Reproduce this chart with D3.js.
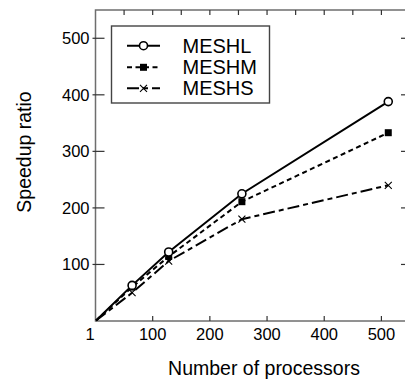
<!DOCTYPE html>
<html>
<head>
<meta charset="utf-8">
<script src="https://cdn.jsdelivr.net/npm/d3@7"></script>
<style>
  body { margin: 0; background: #fff; }
  svg { display: block; font-family: "Liberation Sans", Arial, sans-serif; }
</style>
</head>
<body>
<svg id="chart" width="405" height="381"></svg>
<script>
// number of processors and speedup for each mesh
var procs = [1, 64, 128, 256, 512];
var meshL = [1, 63, 122, 225, 388];
var meshM = [1, 60, 114, 211, 333];
var meshS = [1, 50, 106, 180, 240];
var seriesNames = ["MESHL", "MESHM", "MESHS"];
var xTicks = [1, 100, 200, 300, 400, 500];
var yTicks = [100, 200, 300, 400, 500];

var svg = d3.select("#chart");

// frame runs a bit past the right edge of the window, like the original
// (note: "top" is taken by window.top, so use other names)
var plotL = 95.5, plotR = 410, plotT = 10, plotB = 321;

var x = d3.scaleLinear().domain([0, 550]).range([plotL, plotR]);
var y = d3.scaleLinear().domain([0, 550]).range([plotB, plotT]);

var axisColor = "#6e6e6e";

// frame
svg.append("rect")
  .attr("x", plotL).attr("y", plotT)
  .attr("width", plotR - plotL).attr("height", plotB - plotT)
  .attr("fill", "none").attr("stroke", axisColor).attr("stroke-width", 1.5);

// left ticks + labels
svg.selectAll(".ytick").data(yTicks).enter().append("line")
  .attr("x1", plotL - 3).attr("x2", plotL + 9)
  .attr("y1", function(d){ return y(d); }).attr("y2", function(d){ return y(d); })
  .attr("stroke", "#333").attr("stroke-width", 1.2);
svg.selectAll(".ylab").data(yTicks).enter().append("text")
  .attr("x", plotL - 6).attr("y", function(d){ return y(d); })
  .attr("text-anchor", "end").attr("dominant-baseline", "central")
  .style("font-size", "16.5px").text(function(d){ return d; });

// right ticks
svg.selectAll(".rtick").data(yTicks).enter().append("line")
  .attr("x1", plotR - 9).attr("x2", plotR)
  .attr("y1", function(d){ return y(d); }).attr("y2", function(d){ return y(d); })
  .attr("stroke", "#333").attr("stroke-width", 1.2);

// bottom ticks + labels
svg.selectAll(".xtick").data(xTicks.slice(1)).enter().append("line")
  .attr("x1", function(d){ return x(d); }).attr("x2", function(d){ return x(d); })
  .attr("y1", plotB - 5).attr("y2", plotB)
  .attr("stroke", "#333").attr("stroke-width", 1.2);
svg.selectAll(".xlab").data(xTicks).enter().append("text")
  .attr("x", function(d){ return x(d) - (d === 1 ? 6 : 0); })
  .attr("y", plotB + 19)
  .attr("text-anchor", "middle")
  .style("font-size", "16.5px").text(function(d){ return d; });

// top ticks every 50
svg.selectAll(".ttick").data(d3.range(50, 550, 50)).enter().append("line")
  .attr("x1", function(d){ return x(d); }).attr("x2", function(d){ return x(d); })
  .attr("y1", plotT).attr("y2", plotT + 5)
  .attr("stroke", "#333").attr("stroke-width", 1.2);

// axis titles
svg.append("text").attr("x", 264).attr("y", 375)
  .attr("text-anchor", "middle").style("font-size", "19.5px")
  .text("Number of processors");
svg.append("text")
  .attr("transform", "translate(31,152) rotate(-90)")
  .attr("text-anchor", "middle").style("font-size", "19.5px")
  .text("Speedup ratio");

var styles = [
  { values: meshL, dash: null, marker: "circle" },
  { values: meshM, dash: "5,3.5", marker: "square" },
  { values: meshS, dash: "12,4,5,4", marker: "cross" }
];

var line = d3.line()
  .x(function(d){ return x(d[0]); })
  .y(function(d){ return y(d[1]); });

function drawMarker(g, type, cx, cy) {
  if (type === "circle") {
    g.append("circle").attr("cx", cx).attr("cy", cy).attr("r", 4)
      .attr("fill", "#fff").attr("stroke", "#000").attr("stroke-width", 1.6);
  } else if (type === "square") {
    g.append("rect").attr("x", cx - 3.5).attr("y", cy - 3.5)
      .attr("width", 7).attr("height", 7).attr("fill", "#000");
  } else {
    g.append("path")
      .attr("d", "M" + (cx - 3.5) + "," + (cy - 3.5) + "L" + (cx + 3.5) + "," + (cy + 3.5) +
                 "M" + (cx - 3.5) + "," + (cy + 3.5) + "L" + (cx + 3.5) + "," + (cy - 3.5))
      .attr("stroke", "#000").attr("stroke-width", 1.1).attr("fill", "none");
  }
}

// draw in reverse so the solid line sits on top
styles.slice().reverse().forEach(function(s) {
  var pts = procs.map(function(p, i){ return [p, s.values[i]]; });
  svg.append("path").datum(pts)
    .attr("d", line)
    .attr("fill", "none").attr("stroke", "#000").attr("stroke-width", 2)
    .attr("stroke-dasharray", s.dash);
  var g = svg.append("g");
  pts.slice(1).forEach(function(p){ drawMarker(g, s.marker, x(p[0]), y(p[1])); });
});

// legend
var lg = svg.append("g");
lg.append("rect").attr("x", 111.5).attr("y", 26).attr("width", 158).attr("height", 77)
  .attr("fill", "#fff").attr("stroke", "#444").attr("stroke-width", 1.4);
var rows = [45.7, 67.3, 88.3];
styles.forEach(function(s, i) {
  var ry = rows[i];
  lg.append("line").attr("x1", 127).attr("x2", 160).attr("y1", ry).attr("y2", ry)
    .attr("stroke", "#000").attr("stroke-width", 2)
    .attr("stroke-dasharray", s.dash);
  drawMarker(lg, s.marker, 143.5, ry);
  lg.append("text").attr("x", 182.5).attr("y", ry)
    .attr("dominant-baseline", "central").style("font-size", "20px")
    .text(seriesNames[i]);
});
</script>
</body>
</html>
